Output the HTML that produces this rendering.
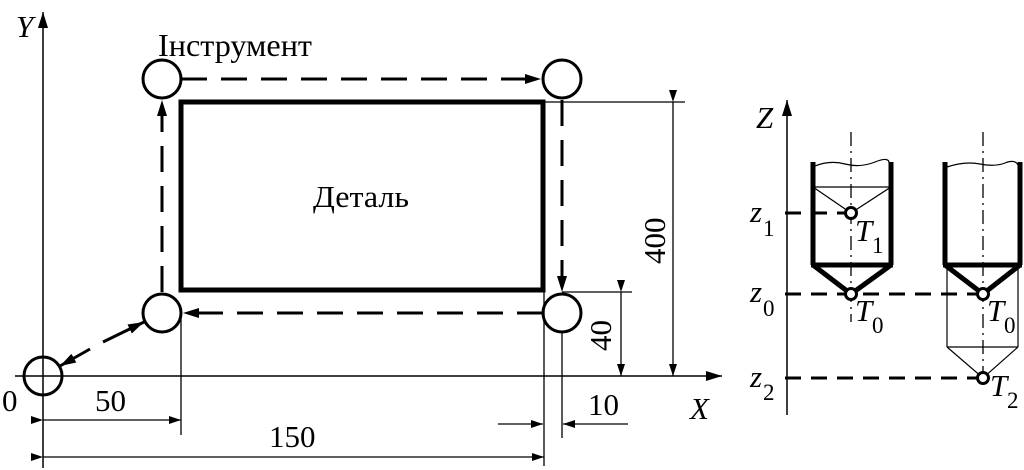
<!DOCTYPE html>
<html><head><meta charset="utf-8"><style>
html,body{margin:0;padding:0;background:#fff}
svg{display:block}
text{font-family:"Liberation Serif",serif;fill:#000}
</style></head><body>
<svg width="1024" height="470" viewBox="0 0 1024 470" xmlns="http://www.w3.org/2000/svg">
<defs>
<marker id="a" viewBox="0 0 12 8" refX="12" refY="4" markerWidth="12" markerHeight="8" markerUnits="userSpaceOnUse" orient="auto"><path d="M0,0 L12,4 L0,8 Z" fill="#000"/></marker>
<marker id="b" viewBox="0 0 16 10" refX="16" refY="5" markerWidth="16" markerHeight="10" markerUnits="userSpaceOnUse" orient="auto"><path d="M0,0 L16,5 L0,10 Z" fill="#000"/></marker>
</defs>
<g stroke="#000" fill="none">
<line x1="43" y1="468" x2="43" y2="12" stroke-width="1.5" marker-end="url(#b)"/>
<line x1="15" y1="376" x2="722" y2="376" stroke-width="1.5" marker-end="url(#b)"/>
<rect x="181" y="102" width="362" height="188" stroke-width="5"/>
<g stroke-width="3" fill="#fff">
<circle cx="43" cy="376" r="19" fill="none"/>
<circle cx="162" cy="79" r="19"/>
<circle cx="562" cy="79" r="19"/>
<circle cx="162" cy="313" r="19"/>
<circle cx="562" cy="313" r="19"/>
</g>
<g stroke-width="3" stroke-dasharray="26,14">
<line x1="181" y1="79" x2="541" y2="79" marker-end="url(#b)"/>
<line x1="562" y1="100" x2="562" y2="292" marker-end="url(#b)"/>
<line x1="543" y1="313" x2="183" y2="313" marker-end="url(#b)"/>
<line x1="162" y1="292" x2="162" y2="100" marker-end="url(#b)"/>
</g>
<line x1="90" y1="349" x2="60" y2="366" stroke-width="3" marker-end="url(#b)"/>
<line x1="103" y1="342" x2="144" y2="322" stroke-width="3" marker-end="url(#b)"/>
<g stroke-width="1.3">
<line x1="181" y1="313" x2="181" y2="435"/>
<line x1="544" y1="290" x2="544" y2="466"/>
<line x1="562" y1="333" x2="562" y2="438"/>
<line x1="543" y1="102" x2="685" y2="102"/>
<line x1="562" y1="292" x2="632" y2="292"/>
<line x1="43" y1="420" x2="181" y2="420" marker-start="url(#a)" marker-end="url(#a)"/>
<line x1="43" y1="457" x2="544" y2="457" marker-start="url(#a)" marker-end="url(#a)"/>
<line x1="498" y1="424" x2="543" y2="424" marker-end="url(#a)"/>
<line x1="628" y1="424" x2="563" y2="424" marker-end="url(#a)"/>
<line x1="673" y1="102" x2="673" y2="376" marker-start="url(#a)" marker-end="url(#a)"/>
<line x1="621" y1="292" x2="621" y2="376" marker-start="url(#a)" marker-end="url(#a)"/>
</g>
<line x1="787" y1="415" x2="787" y2="100" stroke-width="1.5" marker-end="url(#b)"/>
<g stroke-width="1.3" stroke-dasharray="14,5,2,5">
<line x1="851" y1="132" x2="851" y2="322"/>
<line x1="983" y1="132" x2="983" y2="375"/>
</g>
<g stroke-width="5">
<line x1="813" y1="162" x2="813" y2="265"/>
<line x1="891" y1="162" x2="891" y2="265"/>
<line x1="811" y1="265" x2="893" y2="265"/>
<polyline points="813,265 851,294 891,265"/>
<line x1="945" y1="162" x2="945" y2="265"/>
<line x1="1020" y1="162" x2="1020" y2="265"/>
<line x1="943" y1="265" x2="1022" y2="265"/>
<polyline points="945,265 983,294 1020,265"/>
</g>
<g stroke-width="1.2">
<path d="M815,166 Q830,160 845,164 T875,162 T889,164"/>
<path d="M947,167 Q965,161 980,164 T1005,163 T1018,165"/>
<line x1="813" y1="187" x2="891" y2="187"/>
<polyline points="813,187 851,213 891,187"/>
<line x1="947" y1="265" x2="947" y2="347"/>
<line x1="1018" y1="265" x2="1018" y2="347"/>
<line x1="947" y1="347" x2="1018" y2="347"/>
<polyline points="947,347 983,378 1018,347"/>
</g>
<g stroke-width="3" stroke-dasharray="16,10">
<line x1="785" y1="213" x2="846" y2="213"/>
<line x1="785" y1="294" x2="978" y2="294"/>
<line x1="785" y1="378" x2="978" y2="378"/>
</g>
<g stroke-width="3" fill="#fff">
<circle cx="851" cy="213" r="5.5"/>
<circle cx="851" cy="294" r="5.5"/>
<circle cx="983" cy="294" r="5.5"/>
<circle cx="983" cy="378" r="5.5"/>
</g>
</g>
<g font-size="31">
<text x="16" y="37" font-style="italic">Y</text>
<text x="690" y="419" font-style="italic">X</text>
<text x="2" y="411">0</text>
<text x="95" y="411">50</text>
<text x="269" y="447">150</text>
<text x="588" y="415">10</text>
<text x="158" y="56" font-size="32" textLength="154" lengthAdjust="spacingAndGlyphs">Інструмент</text>
<text x="313" y="207" textLength="96" lengthAdjust="spacingAndGlyphs">Деталь</text>
<text transform="translate(665,264) rotate(-90)">400</text>
<text transform="translate(611,351) rotate(-90)">40</text>
<text x="756" y="128" font-style="italic">Z</text>
<text x="750" y="222" font-style="italic">z</text><text x="763" y="236" font-size="23">1</text>
<text x="750" y="302" font-style="italic">z</text><text x="763" y="316" font-size="23">0</text>
<text x="750" y="387" font-style="italic">z</text><text x="763" y="400" font-size="23">2</text>
<text x="855" y="241" font-style="italic">T</text><text x="872" y="253" font-size="23">1</text>
<text x="855" y="321" font-style="italic">T</text><text x="872" y="333" font-size="23">0</text>
<text x="987" y="321" font-style="italic">T</text><text x="1004" y="333" font-size="23">0</text>
<text x="990" y="396" font-style="italic">T</text><text x="1007" y="408" font-size="23">2</text>
</g>
</svg>
</body></html>
